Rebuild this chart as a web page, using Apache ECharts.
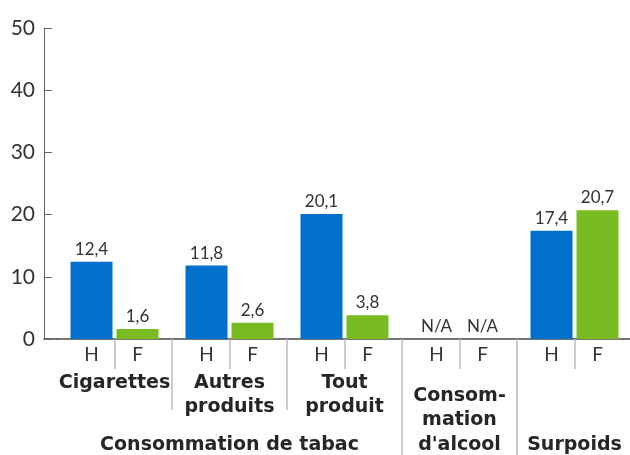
<!DOCTYPE html>
<html>
<head>
<meta charset="utf-8">
<script src="https://cdn.jsdelivr.net/npm/echarts@6/dist/echarts.min.js"></script>
<style>
html,body{margin:0;padding:0;background:#fff;}
#chart{width:630px;height:455px;}
</style>
</head>
<body>
<div id="chart"></div>
<script>
// ---- data ----
var groups = ['Cigarettes', 'Autres produits', 'Tout produit', "Consommation d'alcool", 'Surpoids'];
var sexLabels = ['H', 'F'];
var hommes = [12.4, 11.8, 20.1, null, 17.4];
var femmes = [1.6, 2.6, 3.8, null, 20.7];
var subLabels = ['Cigarettes', 'Autres\nproduits', 'Tout\nproduit', '', ''];
var bottomLabels = ['', 'Consommation de tabac', '', "Consom-\nmation\nd'alcool", 'Surpoids'];
var yTicks = [0, 10, 20, 30, 40, 50];
var naText = 'N/A';

// ---- chart ----
var FONT = 'Lato, "Open Sans", sans-serif';
var BOLDFONT = '"DejaVu Sans", "Open Sans", sans-serif';
var BLUE = '#0070CC';
var GREEN = '#78BC22';

function fmt(v) { return v.toFixed(1).replace('.', ','); }
function toData(arr) {
  return arr.map(function (v) {
    return v == null ? { value: 0, label: { formatter: naText } } : v;
  });
}

var chart = echarts.init(document.getElementById('chart'), null, { renderer: 'canvas' });

var hiddenCat = function (extra) {
  var base = {
    type: 'category', gridIndex: 0, data: groups, position: 'bottom',
    axisLine: { show: false }, axisTick: { show: false },
    axisLabel: { show: false }, splitLine: { show: false }
  };
  for (var k in extra) base[k] = extra[k];
  return base;
};

var option = {
  animation: false,
  backgroundColor: '#fff',
  textStyle: { fontFamily: FONT },
  grid: [
    { left: 57, right: -2, top: 28, bottom: 116, outerBoundsMode: 'none', containLabel: false },
    { left: 44, width: 13, top: 28, bottom: 116, outerBoundsMode: 'none', containLabel: false }
  ],
  xAxis: [
    // main axis with H / F labels and H|F dividers
    {
      type: 'category', gridIndex: 0, data: groups, position: 'bottom',
      axisLine: { show: true, lineStyle: { color: '#4a4a4a', width: 1.5 } },
      axisTick: { show: true, alignWithLabel: true, length: 30, lineStyle: { color: '#bdbdbd', width: 1.5 } },
      axisLabel: {
        interval: 0, margin: 5,
        formatter: function () { return '{s|' + sexLabels[0] + '}{g|}{s|' + sexLabels[1] + '}'; },
        rich: {
          s: { width: 42, align: 'center', fontSize: 19, color: '#333', fontFamily: FONT, lineHeight: 22 },
          g: { width: 4 }
        }
      },
      splitLine: { show: false }
    },
    // group dividers (tobacco sub-groups)
    hiddenCat({
      axisTick: {
        show: true, length: 71, lineStyle: { color: '#bdbdbd', width: 1.5 },
        interval: function (i) { return i === 1 || i === 2; }
      }
    }),
    // group dividers (main groups)
    hiddenCat({
      axisTick: {
        show: true, length: 120, lineStyle: { color: '#bdbdbd', width: 1.5 },
        interval: function (i) { return i === 3 || i === 4; }
      }
    }),
    // sub-category names (top aligned)
    hiddenCat({
      axisLabel: {
        show: true, interval: 0, margin: 32, verticalAlign: 'top',
        fontSize: 19, fontWeight: 'bold', color: '#262626', lineHeight: 24, fontFamily: BOLDFONT,
        formatter: function (v, i) { return subLabels[i]; }
      }
    }),
    // bottom names (bottom aligned)
    hiddenCat({
      axisLabel: {
        show: true, interval: 0, margin: 118, verticalAlign: 'bottom',
        fontSize: 19, fontWeight: 'bold', color: '#262626', lineHeight: 24.5, fontFamily: BOLDFONT,
        formatter: function (v, i) { return bottomLabels[i]; }
      }
    }),
    // short extension of the x axis line to the y axis
    {
      type: 'category', gridIndex: 1, data: [''], position: 'bottom',
      axisLine: { show: true, lineStyle: { color: '#4a4a4a', width: 1.5 } },
      axisTick: { show: false }, axisLabel: { show: false }, splitLine: { show: false }
    }
  ],
  yAxis: [
    {
      type: 'value', gridIndex: 0, min: yTicks[0], max: yTicks[yTicks.length - 1],
      interval: yTicks[1] - yTicks[0], offset: 13,
      axisLine: { show: true, lineStyle: { color: '#666', width: 1 } },
      axisTick: { show: true, inside: true, length: 8, lineStyle: { color: '#666', width: 1 } },
      axisLabel: { fontSize: 21, color: '#333', margin: 9, fontFamily: FONT },
      splitLine: { show: false }
    },
    {
      type: 'value', gridIndex: 1, min: 0, max: 50, show: false
    }
  ],
  series: [
    {
      name: sexLabels[0], type: 'bar', xAxisIndex: 0, yAxisIndex: 0,
      data: toData(hommes), barWidth: 42, barGap: '9.5%',
      itemStyle: { color: BLUE },
      label: {
        show: true, position: 'top', distance: 4, fontSize: 17, color: '#333', fontFamily: FONT,
        formatter: function (p) { return fmt(p.value); }
      }
    },
    {
      name: sexLabels[1], type: 'bar', xAxisIndex: 0, yAxisIndex: 0,
      data: toData(femmes), barWidth: 42, barGap: '9.5%',
      itemStyle: { color: GREEN },
      label: {
        show: true, position: 'top', distance: 4, fontSize: 17, color: '#333', fontFamily: FONT,
        formatter: function (p) { return fmt(p.value); }
      }
    }
  ]
};
chart.setOption(option);
</script>
</body>
</html>
